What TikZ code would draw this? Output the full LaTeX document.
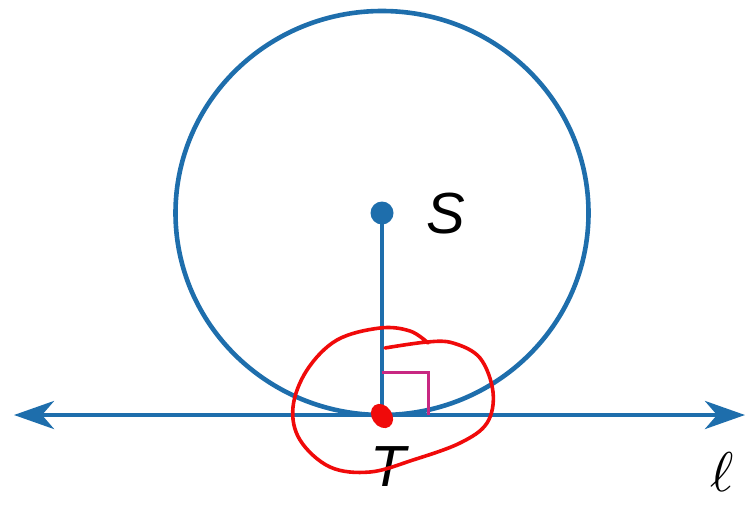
\documentclass[tikz,border=0pt]{standalone}
\usepackage{fontspec}
\setmainfont{Liberation Sans}
\usetikzlibrary{arrows.meta}
\definecolor{geoblue}{RGB}{30,110,172}
\definecolor{geomag}{RGB}{200,40,130}
\definecolor{penred}{RGB}{240,10,10}
\tikzset{
  geoline/.style={draw=geoblue, line width=4.6pt},
  lbl/.style={font=\fontsize{58}{66}\selectfont\itshape, inner sep=0pt},
  pen/.style={draw=penred, line width=3.6pt, line cap=round, line join=round},
}
\begin{document}
\begin{tikzpicture}[x=1pt,y=-1pt]
\useasboundingbox (0,0) rectangle (746,506);
\coordinate (S) at (382,213);
\coordinate (T) at (382,415);
\coordinate (L) at (14,415);
\coordinate (R) at (745,415);
\coordinate (RA) at (382,372);
\coordinate (RB) at (428,415);
% circle
\draw[geoline] (S) ellipse [x radius=206.5, y radius=202];
% tangent line
\draw[geoline, {Stealth[length=40pt,width=28pt,inset=12pt]}-{Stealth[length=40pt,width=28pt,inset=12pt]}] (L) -- (R);
% radius
\draw[geoline] (S) -- (T);
\fill[geoblue] (S) circle[radius=11.5];
% right angle
\draw[geomag, line width=3pt] (RA) -| (RB);
% labels
\node[lbl] (lS) at (446,214) {S};
\node[lbl] (lT) at (388,467) {T};
\node[inner sep=0pt] (lell) at (722,472) {\scalebox{5.6}{$\ell$}};
% red annotation
\draw[pen] plot[smooth, tension=0.6] coordinates {(385,348) (427,342) (453,343) (480,358) (493,392) (487,423) (460,443) (413,460) (370,472) (330,467) (300,440) (293,407) (307,370) (337,340) (380,328) (410,331) (428,343)};
\fill[penred, rotate around={35:(382,416)}] (382,416) ellipse [x radius=10, y radius=13];
\end{tikzpicture}
\end{document}
